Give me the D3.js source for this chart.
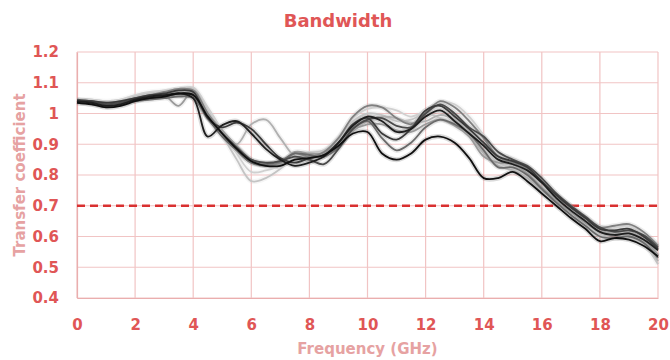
<!DOCTYPE html>
<html><head><meta charset="utf-8">
<script src="https://cdn.jsdelivr.net/npm/d3@7"></script>
<style>
html,body{margin:0;padding:0;background:#fff;}
svg{display:block;font-family:"DejaVu Sans",sans-serif;font-weight:bold;}
</style></head>
<body>
<svg id="chart" width="670" height="360"></svg>
<script>
const freq = [0,0.5,1,1.5,2,2.5,3,3.5,4,4.5,5,5.5,6,6.5,7,7.5,8,8.5,9,9.5,10,10.5,11,11.5,12,12.5,13,13.5,14,14.5,15,15.5,16,16.5,17,17.5,18,18.5,19,19.5,20];
const xTicks = [0,2,4,6,8,10,12,14,16,18,20];
const yTicks = [0.4,0.5,0.6,0.7,0.8,0.9,1,1.1,1.2];
const threshold = 0.7;

const s1 = [1.040,1.035,1.025,1.030,1.045,1.055,1.060,1.065,1.050,0.925,0.962,0.975,0.935,0.885,0.850,0.830,0.840,0.860,0.905,0.960,0.990,0.975,0.940,0.950,0.990,1.010,0.975,0.935,0.895,0.850,0.835,0.815,0.775,0.725,0.685,0.650,0.615,0.605,0.610,0.590,0.555];
const s2 = [1.035,1.030,1.020,1.025,1.040,1.050,1.055,1.065,1.060,0.990,0.935,0.885,0.845,0.830,0.830,0.850,0.855,0.865,0.895,0.935,0.940,0.870,0.850,0.870,0.915,0.925,0.905,0.855,0.790,0.790,0.810,0.780,0.740,0.700,0.660,0.625,0.585,0.595,0.590,0.570,0.535];
const s3 = [1.040,1.040,1.035,1.040,1.050,1.060,1.065,1.075,1.070,0.985,0.955,0.970,0.950,0.900,0.855,0.840,0.855,0.865,0.905,0.965,0.985,0.935,0.915,0.950,1.010,1.025,0.990,0.950,0.905,0.860,0.845,0.825,0.780,0.735,0.695,0.660,0.625,0.620,0.625,0.600,0.560];
const s4 = [1.040,1.035,1.030,1.035,1.050,1.060,1.070,1.080,1.075,1.000,0.935,0.880,0.840,0.830,0.840,0.870,0.860,0.875,0.920,0.990,1.025,1.020,0.985,0.965,1.000,1.040,1.020,0.975,0.920,0.860,0.840,0.820,0.780,0.730,0.695,0.660,0.630,0.635,0.640,0.615,0.570];
const s5 = [1.045,1.040,1.030,1.035,1.045,1.050,1.055,1.065,1.060,0.990,0.935,0.890,0.850,0.840,0.845,0.860,0.850,0.835,0.885,0.950,0.980,0.985,0.960,0.955,1.000,1.030,1.000,0.955,0.925,0.875,0.850,0.830,0.790,0.740,0.700,0.665,0.630,0.615,0.620,0.605,0.565];
const s6 = [1.045,1.040,1.035,1.040,1.055,1.065,1.070,1.080,1.080,1.010,0.930,0.850,0.780,0.790,0.820,0.860,0.870,0.880,0.915,0.975,1.000,0.995,0.975,0.980,1.000,0.985,0.965,0.930,0.880,0.840,0.820,0.790,0.745,0.705,0.670,0.640,0.605,0.595,0.600,0.575,0.510];
const s7 = [1.035,1.030,1.025,1.035,1.045,1.055,1.060,1.070,1.070,0.990,0.930,0.900,0.965,0.980,0.920,0.860,0.850,0.860,0.895,0.945,0.975,0.990,0.985,0.970,0.975,0.995,0.980,0.935,0.870,0.830,0.815,0.790,0.750,0.715,0.680,0.645,0.615,0.605,0.605,0.585,0.520];
const s8 = [1.040,1.040,1.035,1.040,1.050,1.060,1.060,1.025,1.075,1.000,0.945,0.895,0.850,0.835,0.835,0.875,0.870,0.870,0.895,0.945,0.965,0.965,0.945,0.940,0.965,0.980,0.960,0.925,0.860,0.840,0.835,0.805,0.760,0.715,0.680,0.645,0.615,0.605,0.610,0.590,0.540];
const s9 = [1.045,1.045,1.040,1.045,1.060,1.070,1.075,1.080,1.085,1.020,0.945,0.870,0.810,0.815,0.830,0.865,0.875,0.880,0.925,0.985,1.015,1.020,1.010,0.990,1.010,1.035,1.030,0.990,0.930,0.870,0.855,0.830,0.785,0.740,0.700,0.665,0.635,0.630,0.635,0.610,0.575];
const s10 = [1.040,1.035,1.025,1.030,1.040,1.045,1.050,1.055,1.050,0.985,0.925,0.880,0.840,0.835,0.845,0.870,0.865,0.860,0.890,0.950,0.975,0.920,0.880,0.905,0.955,0.980,0.965,0.935,0.880,0.825,0.825,0.800,0.755,0.710,0.670,0.635,0.600,0.595,0.600,0.580,0.530];

const seriesList = [s9,s6,s7,s8,s4,s10,s5,s3,s1,s2];
const seriesColors = ["#d0d0d0","#c4c4c4","#b0b0b0","#9a9a9a","#808080","#6a6a6a","#4a4a4a","#3a3a3a","#1e1e1e","#101010"];

const svg = d3.select("#chart");
const m = {l:77, r:658, t:52, b:298};
const x = d3.scaleLinear().domain([0,20]).range([m.l, m.r]);
const y = d3.scaleLinear().domain([0.4,1.2]).range([m.b, m.t]);

const gridColor = "#f1c4c4";
svg.append("g").selectAll("line").data(xTicks).join("line")
  .attr("x1",d=>x(d)).attr("x2",d=>x(d)).attr("y1",m.t).attr("y2",m.b)
  .attr("stroke",gridColor).attr("stroke-width",1.2);
svg.append("g").selectAll("line").data(yTicks).join("line")
  .attr("x1",m.l).attr("x2",m.r).attr("y1",d=>y(d)).attr("y2",d=>y(d))
  .attr("stroke",gridColor).attr("stroke-width",1.2);

// axis lines
const xAxis = d3.axisBottom(x).tickValues(xTicks).tickSize(0).tickFormat(d3.format("d"));
const gx = svg.append("g").attr("transform",`translate(0,${m.b})`).call(xAxis);
gx.select(".domain").attr("stroke","#eaaeae").attr("stroke-width",1.2);
gx.selectAll("text").attr("dy",null).attr("y",32).attr("fill","#e05656")
  .attr("font-size",15).attr("font-weight","bold").attr("font-family","DejaVu Sans");

const yAxis = d3.axisLeft(y).tickValues(yTicks).tickSize(0).tickFormat(d=>String(+d.toFixed(1)));
const gy = svg.append("g").attr("transform",`translate(${m.l},0)`).call(yAxis);
gy.select(".domain").attr("stroke","#eaaeae").attr("stroke-width",1.2);
gy.selectAll("text").attr("x",-18).attr("fill","#e05656")
  .attr("font-size",15).attr("font-weight","bold").attr("font-family","DejaVu Sans");

// threshold line
svg.append("line").attr("x1",x(0)).attr("x2",x(20)).attr("y1",y(threshold)).attr("y2",y(threshold))
  .attr("stroke","#d93030").attr("stroke-width",2.5).attr("stroke-dasharray","8,5");

const line = d3.line().x((d,i)=>x(freq[i])).y(d=>y(d)).curve(d3.curveCatmullRom.alpha(0.5));
const lg = svg.append("g");
seriesList.forEach((s,i)=>{
  lg.append("path").attr("d",line(s)).attr("fill","none")
    .attr("stroke",seriesColors[i]).attr("stroke-width",5).attr("stroke-opacity",0.15);
});
seriesList.forEach((s,i)=>{
  lg.append("path").attr("d",line(s)).attr("fill","none")
    .attr("stroke",seriesColors[i]).attr("stroke-width",1.8);
});

svg.append("text").attr("x",338).attr("y",27).attr("text-anchor","middle")
  .attr("fill","#e05656").attr("font-size",18).text("Bandwidth");
svg.append("text").attr("x",(m.l+m.r)/2).attr("y",354).attr("text-anchor","middle")
  .attr("fill","#e6a2a2").attr("font-size",15).text("Frequency (GHz)");
svg.append("text").attr("transform",`translate(25,${(m.t+m.b)/2}) rotate(-90)`).attr("text-anchor","middle")
  .attr("fill","#e6a2a2").attr("font-size",15).text("Transfer coefficient");
</script>
</body></html>
